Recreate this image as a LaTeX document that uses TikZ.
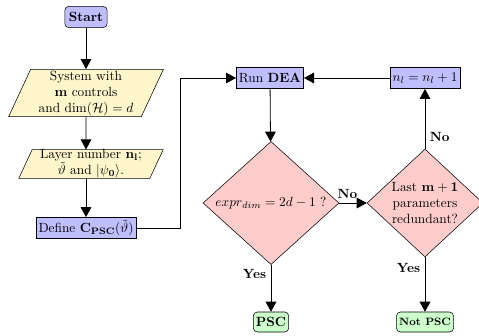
\documentclass[tikz,border=0pt]{standalone}
\usetikzlibrary{shapes.geometric,arrows.meta}
\definecolor{ioyellow}{RGB}{255,246,204}
\begin{document}
\begin{tikzpicture}[
x=0.75pt, y=-0.75pt,
startstop/.style={draw, rounded corners=3pt, fill=blue!25, font=\bfseries, minimum height=16pt, inner sep=3pt},
io/.style={draw, trapezium, trapezium left angle=65, trapezium right angle=115, fill=ioyellow, align=center, inner xsep=6pt, inner ysep=1pt},
process/.style={draw, fill=blue!25, minimum height=16pt, inner sep=2pt},
decision/.style={draw, diamond, aspect=1, fill=red!20, align=center, inner sep=0pt},
result/.style={draw, rounded corners=3pt, fill=green!20, font=\bfseries, minimum height=15pt, inner sep=2pt},
arrow/.style={semithick, -{Triangle[length=7.5pt,width=8pt]}},
answer/.style={font=\bfseries}
]
\useasboundingbox (0,0) rectangle (479,336);

%%% left column
\node[startstop] (start) at (86,17) {Start};
\node[io] (system) at (86,93) {System with\\ $\mathbf{m}$ controls\\ and $\dim(\mathcal{H})=d$};
\node[io, inner ysep=0pt] (layer) at (91,164) {Layer number $\mathbf{n_l}$;\\ $\tilde{\vartheta}$ and $|\psi_{\mathbf{0}}\rangle$.};
\node[process, minimum width=75pt] (define) at (86,228) {Define $\mathbf{C_{PSC}}(\tilde{\vartheta})$};

%%% right part
\node[process, minimum width=50pt] (dea) at (270,78) {Run \textbf{DEA}};
\node[process, minimum width=51pt] (inc) at (425,78) {$n_l=n_l+1$};
\node[decision, minimum width=102pt] (dim) at (271,203) {$expr_{dim}=2d-1$ ?};
\node[decision, minimum width=87pt] (red) at (425,203) {Last $\mathbf{m+1}$\\ parameters\\ redundant?};
\node[result] (psc) at (271,322) {PSC};
\node[result, font=\footnotesize\bfseries] (notpsc) at (425,322) {Not PSC};

\coordinate (bend) at (180,78);

%%% connectors
\draw[arrow] (start) -- (system);
\draw[arrow] (system) -- (layer.north -| system);
\draw[arrow] (layer.south -| system) -- (define);
\draw[arrow] (define.east) -| (bend) -- (dea.west);
\draw[arrow] (inc) -- (dea);
\draw[arrow] (dea) -- (dim);
\draw[arrow] (dim) -- node[answer, pos=0.3, above]{No} (red);
\draw[arrow] (dim) -- node[answer, pos=0.2, left]{Yes} (psc);
\draw[arrow] (red) -- node[answer, pos=0.2, right]{No} (inc);
\draw[arrow] (red) -- node[answer, pos=0.2, left]{Yes} (notpsc);

\end{tikzpicture}
\end{document}
